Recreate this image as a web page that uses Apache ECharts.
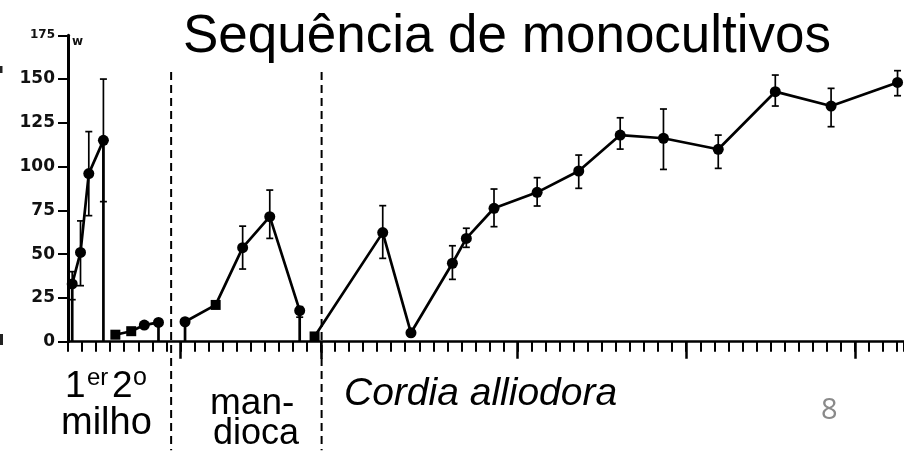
<!DOCTYPE html>
<html>
<head>
<meta charset="utf-8">
<script src="https://cdn.jsdelivr.net/npm/echarts@6/dist/echarts.min.js"></script>
<style>html,body{margin:0;padding:0;background:#fff}#c{width:904px;height:454px}</style>
</head>
<body>
<div id="c"></div>
<script>
// ---- data (x = months since start, y = value) ----
const milho1X = [0.3, 0.89, 1.48, 2.52];
const milho1Y = [33, 51, 96, 115];
const milho1Lo = [24, 32, 72, 80];
const milho1Hi = [40, 69, 120, 150];

const milho2X = [3.37, 4.5, 5.43, 6.44];
const milho2Y = [4, 6, 9.5, 11];

const mandX = [8.33, 10.51, 12.43, 14.36, 16.49];
const mandY = [11.4, 21, 53.7, 71.4, 17.7];
const mandLo = [null, null, 41.5, 59, 14];
const mandHi = [null, null, 66, 86.6, 20];

const cordiaX = [17.55, 22.4, 24.41, 27.36, 28.35, 30.32, 33.39, 36.35, 39.3, 42.38, 46.28, 50.34, 54.31, 59.04];
const cordiaY = [3, 62.3, 5.1, 44.8, 59, 76.2, 85.3, 97.5, 118, 116.2, 109.9, 142.8, 134.6, 148.1];
const cordiaLo = [null, 47.6, null, 35.6, 53.9, 65.7, 77.5, 87.6, 110, 98.4, 99, 134.6, 122.8, 140.5];
const cordiaHi = [null, 77.7, null, 54.8, 64.8, 87.2, 93.7, 106.6, 127.9, 132.9, 118, 152.3, 144.7, 154.8];

const phaseBoundaries = [7.34, 18.05];
const majorTickMonths = [8, 18, 32, 44, 56];
const yTickLabels = ['0', '25', '50', '75', '100', '125', '150', '175'];

const titleText = 'Sequência de monocultivos';

// ---- build ----
const X_MAX = 59.5;
const squares = { milho2: [0, 1], mand: [1], cordia: [0] };

function pts(xs, ys, sq, dropStart, dropEnd) {
  const out = [];
  if (dropStart) out.push({ value: [xs[0], 0], symbol: 'none' });
  xs.forEach((x, i) => {
    const isSq = (sq || []).indexOf(i) >= 0;
    out.push({ value: [x, ys[i]], symbol: isSq ? 'rect' : 'circle', symbolSize: isSq ? 10 : 11 });
  });
  if (dropEnd) out.push({ value: [xs[xs.length - 1], 0], symbol: 'none' });
  return out;
}
function errs(xs, lo, hi) {
  const out = [];
  xs.forEach((x, i) => { if (lo[i] != null) out.push([x, lo[i], hi[i]]); });
  return out;
}

const lineStyle = { color: '#000', width: 2.7 };
function lineSeries(data) {
  return { type: 'line', data, lineStyle, itemStyle: { color: '#000' }, clip: false,
    showAllSymbol: true, xAxisIndex: 0, yAxisIndex: 0, z: 3 };
}

const errData = errs(milho1X, milho1Lo, milho1Hi)
  .concat(errs(mandX, mandLo, mandHi))
  .concat(errs(cordiaX, cordiaLo, cordiaHi));

const chart = echarts.init(document.getElementById('c'), null, { renderer: 'canvas' });
const grid = { left: 68, top: 35.3, width: X_MAX * 14.1, height: 306.4 };

chart.setOption({
  animation: false,
  backgroundColor: '#fff',
  title: {
    text: titleText, left: 502, top: 6, textAlign: 'center',
    textStyle: { fontFamily: 'Liberation Sans', fontWeight: 'normal', fontSize: 53, color: '#000' }
  },
  grid: [Object.assign({}, grid), Object.assign({}, grid)],
  xAxis: [
    { type: 'value', gridIndex: 0, min: 0, max: X_MAX, interval: 1,
      axisLine: { show: true, lineStyle: { color: '#000', width: 2.5 } },
      axisTick: { show: true, length: 10, lineStyle: { color: '#000', width: 2 } },
      axisLabel: { show: false }, splitLine: { show: false } },
    { type: 'value', gridIndex: 1, min: 0, max: X_MAX, position: 'bottom',
      axisLine: { show: false },
      axisTick: { show: true, length: 17, customValues: majorTickMonths, lineStyle: { color: '#000', width: 2.5 } },
      axisLabel: { show: false }, splitLine: { show: false } }
  ],
  yAxis: [
    { type: 'value', gridIndex: 0, min: 0, max: 175, interval: 25,
      axisLine: { show: true, lineStyle: { color: '#000', width: 3 } },
      axisTick: { show: true, length: 10, lineStyle: { color: '#000', width: 2 } },
      axisLabel: { show: true, margin: 13, color: '#111',
        formatter: (v) => { const s = yTickLabels[Math.round(v / 25)]; return v === 175 ? '{s|' + s + '}' : s; },
        fontFamily: 'DejaVu Sans', fontWeight: 'bold', fontSize: 17,
        rich: { s: { fontFamily: 'DejaVu Sans', fontWeight: 'bold', fontSize: 12, color: '#111' } } },
      splitLine: { show: false } },
    { type: 'value', gridIndex: 1, min: 0, max: 175, show: false }
  ],
  series: [
    lineSeries(pts(milho1X, milho1Y, null, true, true)),
    lineSeries(pts(milho2X, milho2Y, squares.milho2, false, true)),
    lineSeries(pts(mandX, mandY, squares.mand, true, true)),
    lineSeries(pts(cordiaX, cordiaY, squares.cordia, false, false)),
    { type: 'custom', xAxisIndex: 0, yAxisIndex: 0, clip: false, z: 2,
      data: errData, encode: { x: 0, y: [1, 2] },
      renderItem: function (params, api) {
        const x = api.value(0);
        const a = api.coord([x, api.value(1)]);
        const b = api.coord([x, api.value(2)]);
        const w = 3.5;
        const st = { stroke: '#000', lineWidth: 1.7 };
        return { type: 'group', children: [
          { type: 'line', shape: { x1: a[0], y1: a[1], x2: b[0], y2: b[1] }, style: st },
          { type: 'line', shape: { x1: a[0] - w, y1: a[1], x2: a[0] + w, y2: a[1] }, style: st },
          { type: 'line', shape: { x1: b[0] - w, y1: b[1], x2: b[0] + w, y2: b[1] }, style: st }
        ] };
      } },
    { type: 'custom', xAxisIndex: 0, yAxisIndex: 0, clip: false, z: 1,
      data: phaseBoundaries.map(x => [x, 0]), encode: { x: 0, y: 1 },
      renderItem: function (params, api) {
        const x = api.value(0);
        const a = api.coord([x, 154]);
        const b = api.coord([x, -62]);
        return { type: 'line', shape: { x1: a[0], y1: a[1], x2: b[0], y2: b[1] },
          style: { stroke: '#000', lineWidth: 2, lineDash: [8, 5] } };
      } }
  ],
  graphic: [
    { type: 'text', left: 72, top: 36, style: { text: 'w', font: 'bold 12px DejaVu Sans', fill: '#111' } },
    { type: 'rect', shape: { x: 0, y: 66, width: 2.5, height: 7 }, style: { fill: '#222' } },
    { type: 'rect', shape: { x: 0, y: 334, width: 3, height: 11 }, style: { fill: '#222' } },
    { type: 'text', x: 65, y: 387, style: { text: '1', font: '37px Liberation Sans', fill: '#000', verticalAlign: 'middle' } },
    { type: 'text', x: 87, y: 378, style: { text: 'er', font: '24px Liberation Sans', fill: '#000', verticalAlign: 'middle' } },
    { type: 'text', x: 112, y: 387, style: { text: '2', font: '37px Liberation Sans', fill: '#000', verticalAlign: 'middle' } },
    { type: 'text', x: 133, y: 378, style: { text: 'o', font: '25px Liberation Sans', fill: '#000', verticalAlign: 'middle' } },
    { type: 'text', x: 61, y: 424, style: { text: 'milho', font: '38px Liberation Sans', fill: '#000', verticalAlign: 'middle' } },
    { type: 'text', x: 210, y: 404, style: { text: 'man-', font: '37px Liberation Sans', fill: '#000', verticalAlign: 'middle' } },
    { type: 'text', x: 213, y: 434, style: { text: 'dioca', font: '36px Liberation Sans', fill: '#000', verticalAlign: 'middle' } },
    { type: 'text', x: 344, y: 394, style: { text: 'Cordia alliodora', font: 'italic 39px Liberation Sans', fill: '#000', verticalAlign: 'middle' } },
    { type: 'text', x: 821, y: 411, style: { text: '8', font: '29px Open Sans', fill: '#8a8a8a', verticalAlign: 'middle' } }
  ]
});
</script>
</body>
</html>
